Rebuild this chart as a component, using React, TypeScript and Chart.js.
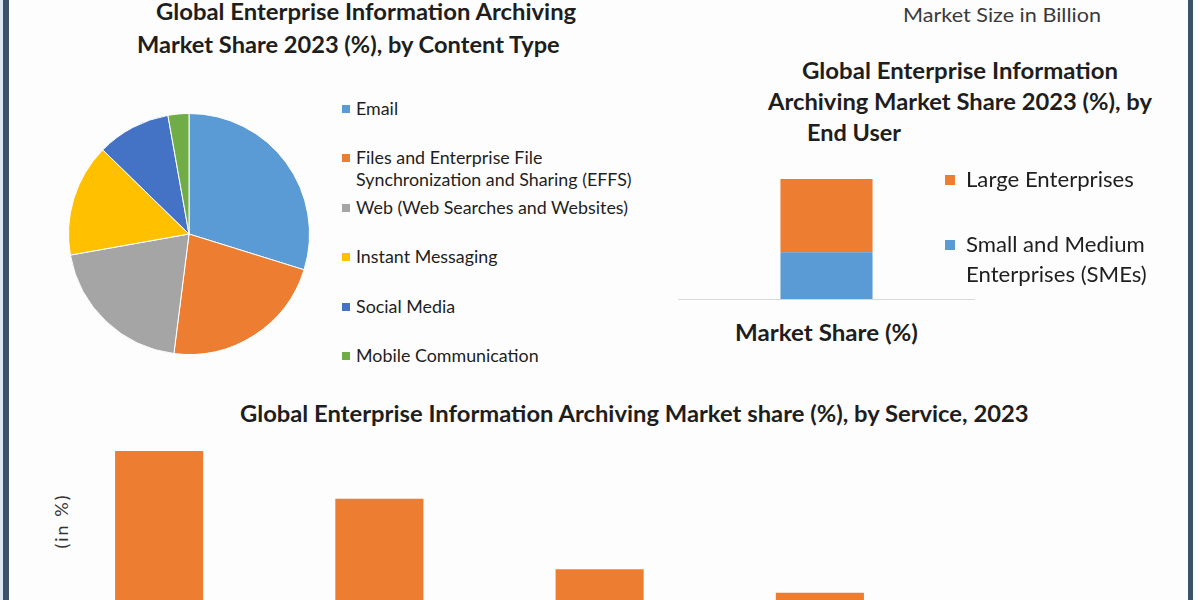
import React, { useEffect, useRef } from "react";
import { Chart, registerables } from "chart.js";

Chart.register(...registerables);

// ---------- data ----------
const contentTypeLines: string[][] = [
  ["Email"],
  ["Files and Enterprise File", "Synchronization and Sharing (EFFS)"],
  ["Web (Web Searches and Websites)"],
  ["Instant Messaging"],
  ["Social Media"],
  ["Mobile Communication"],
];
const contentShares = [29.8, 22.2, 20.2, 15.1, 9.9, 2.8];
const contentColors = ["#5B9BD5", "#ED7D31", "#A5A5A5", "#FFC000", "#4472C4", "#70AD47"];

const endUserCategories = ["Market Share (%)"];
const endUserSeriesLines: string[][] = [["Large Enterprises"], ["Small and Medium", "Enterprises (SMEs)"]];
const largeEnterpriseShare = [61];
const smeShare = [39];
const endUserColors = ["#ED7D31", "#5B9BD5"];

const serviceCategories = ["Consulting", "System Integration", "Training, Support and Maintenance", "Managed Services"];
const serviceShares = [37.9, 28.8, 15.4, 10.9];
const serviceColor = "#ED7D31";

const FONT = "Lato, 'Open Sans', sans-serif";

// ---------- text helper ----------
const measureCanvas = typeof document !== "undefined" ? document.createElement("canvas") : null;
function measure(text: string, font: string): number {
  const ctx = measureCanvas?.getContext("2d");
  if (!ctx) return text.length * 8;
  ctx.font = font;
  return ctx.measureText(text).width;
}

type TProps = {
  text: string;
  x: number;
  y: number;
  size: number;
  weight?: number;
  color?: string;
  align?: "left" | "center";
  width?: number;
  squeeze?: number;
};

function T({ text, x, y, size, weight = 700, color = "#1e1e1e", align = "left", width, squeeze = 1 }: TProps) {
  const font = `${weight} ${size}px ${FONT}`;
  const w = measure(text, font);
  const s = width ? width / w : squeeze;
  const finalW = w * s;
  const left = align === "center" ? x - finalW / 2 : x;
  return (
    <div
      style={{
        position: "absolute",
        left,
        top: y,
        font,
        lineHeight: `${size}px`,
        color,
        whiteSpace: "nowrap",
        transformOrigin: "left center",
        transform: `translateY(-50%) scaleX(${s})`,
      }}
    >
      {text}
    </div>
  );
}

// ---------- chart helper ----------
function ChartBox({ left, top, width, height, make }: { left: number; top: number; width: number; height: number; make: (c: HTMLCanvasElement) => Chart }) {
  const ref = useRef<HTMLCanvasElement | null>(null);
  useEffect(() => {
    if (!ref.current) return;
    const chart = make(ref.current);
    return () => chart.destroy();
  }, []);
  return (
    <canvas
      ref={ref}
      width={width}
      height={height}
      style={{ position: "absolute", left, top, width, height }}
    />
  );
}

const baselinePlugin = {
  id: "baseline",
  afterDatasetsDraw(chart: any, _args: any, opts: any) {
    if (!opts || !opts.color) return;
    const { ctx, chartArea, scales } = chart;
    const y = Math.round(scales.y.getPixelForValue(0)) + 0.5;
    ctx.save();
    ctx.strokeStyle = opts.color;
    ctx.lineWidth = 1;
    ctx.beginPath();
    ctx.moveTo(chartArea.left, y);
    ctx.lineTo(chartArea.right, y);
    ctx.stroke();
    ctx.restore();
  },
};

function makePie(c: HTMLCanvasElement) {
  return new Chart(c, {
    type: "pie",
    data: {
      labels: contentTypeLines.map((l) => l.join(" ")),
      datasets: [{ data: contentShares, backgroundColor: contentColors, borderColor: "#ffffff", borderWidth: 1 }],
    },
    options: {
      animation: false,
      responsive: false,
      layout: { padding: 0 },
      plugins: { legend: { display: false }, tooltip: { enabled: false }, title: { display: false } },
    },
  });
}

function makeStacked(c: HTMLCanvasElement) {
  return new Chart(c, {
    type: "bar",
    data: {
      labels: endUserCategories,
      datasets: [
        { label: endUserSeriesLines[1].join(" "), data: smeShare, backgroundColor: endUserColors[1] },
        { label: endUserSeriesLines[0].join(" "), data: largeEnterpriseShare, backgroundColor: endUserColors[0] },
      ],
    },
    options: {
      animation: false,
      responsive: false,
      layout: { padding: { bottom: 1 } },
      datasets: { bar: { barPercentage: 0.31, categoryPercentage: 1 } },
      scales: {
        x: { stacked: true, display: false },
        y: { stacked: true, display: false, min: 0, max: 100 },
      },
      plugins: { legend: { display: false }, tooltip: { enabled: false }, baseline: { color: "#d9d9d9" } } as any,
    },
    plugins: [baselinePlugin],
  });
}

function makeServices(c: HTMLCanvasElement) {
  return new Chart(c, {
    type: "bar",
    data: {
      labels: serviceCategories,
      datasets: [{ label: "Market share (%)", data: serviceShares, backgroundColor: serviceColor }],
    },
    options: {
      animation: false,
      responsive: false,
      layout: { padding: 0 },
      datasets: { bar: { barPercentage: 0.4, categoryPercentage: 1 } },
      scales: {
        x: { display: false },
        y: { display: false, min: 0, max: 40 },
      },
      plugins: { legend: { display: false }, tooltip: { enabled: false } },
    },
  });
}

export default function App() {
  // pie legend layout
  const pieLegend: React.ReactNode[] = [];
  contentTypeLines.forEach((lines, i) => {
    const y0 = 109 + i * 49.4;
    pieLegend.push(
      <div key={`sq${i}`} style={{ position: "absolute", left: 342, top: y0 - 4, width: 8, height: 8, background: contentColors[i] }} />
    );
    lines.forEach((ln, j) => {
      pieLegend.push(<T key={`t${i}-${j}`} text={ln} x={356} y={y0 + j * 22} size={17.5} weight={400} color="#1e1e1e" squeeze={1.02} />);
    });
  });

  const userLegend: React.ReactNode[] = [];
  endUserSeriesLines.forEach((lines, i) => {
    const y0 = 180 + i * 65;
    userLegend.push(
      <div key={`usq${i}`} style={{ position: "absolute", left: 945, top: y0 - 5, width: 10, height: 10, background: endUserColors[i] }} />
    );
    lines.forEach((ln, j) => {
      userLegend.push(<T key={`ut${i}-${j}`} text={ln} x={966} y={y0 + j * 30} size={21.5} weight={400} color="#1e1e1e" squeeze={1.03} />);
    });
  });

  return (
    <div style={{ position: "absolute", left: 0, top: 0, width: 1200, height: 600, overflow: "hidden", background: "#fdfdfd" }}>
      {/* frame lines */}
      <div style={{ position: "absolute", left: 0, top: 0, width: 3, height: 600, background: "#dce8f2" }} />
      <div style={{ position: "absolute", left: 3, top: 0, width: 6, height: 600, background: "#3b5268" }} />
      <div style={{ position: "absolute", left: 1188, top: 0, width: 5, height: 600, background: "#3b5268" }} />

      {/* top-left pie chart */}
      <T text="Global Enterprise Information Archiving" x={366} y={12} size={23.5} align="center" width={421} />
      <T text="Market Share 2023 (%), by Content Type" x={349} y={45} size={23.5} align="center" width={424} />
      <ChartBox left={68} top={113} width={242} height={242} make={makePie} />
      {pieLegend}

      {/* top-right stacked bar */}
      <T text="Market Size in Billion" x={1002} y={14} size={19} weight={400} color="#3a3a3a" align="center" width={198} />
      <T text="Global Enterprise Information" x={960} y={71} size={22} align="center" width={316} />
      <T text="Archiving Market Share 2023 (%), by" x={960} y={102} size={22} align="center" width={384} />
      <T text="End User" x={807} y={133} size={22} width={94} />
      <ChartBox left={678} top={179} width={297} height={121} make={makeStacked} />
      <T text={endUserCategories[0]} x={826} y={333} size={22} align="center" width={183} />
      {userLegend}

      {/* bottom bar chart */}
      <T text="Global Enterprise Information Archiving Market share (%), by Service, 2023" x={635} y={414} size={22} align="center" width={790} />
      <div
        style={{
          position: "absolute",
          left: 61,
          top: 521,
          transform: "translate(-50%, -50%) rotate(-90deg)",
          font: `400 18px ${FONT}`,
          color: "#333333",
          whiteSpace: "nowrap",
          letterSpacing: 2,
        }}
      >
        (in %)
      </div>
      <ChartBox left={49} top={440} width={881} height={210} make={makeServices} />
    </div>
  );
}
